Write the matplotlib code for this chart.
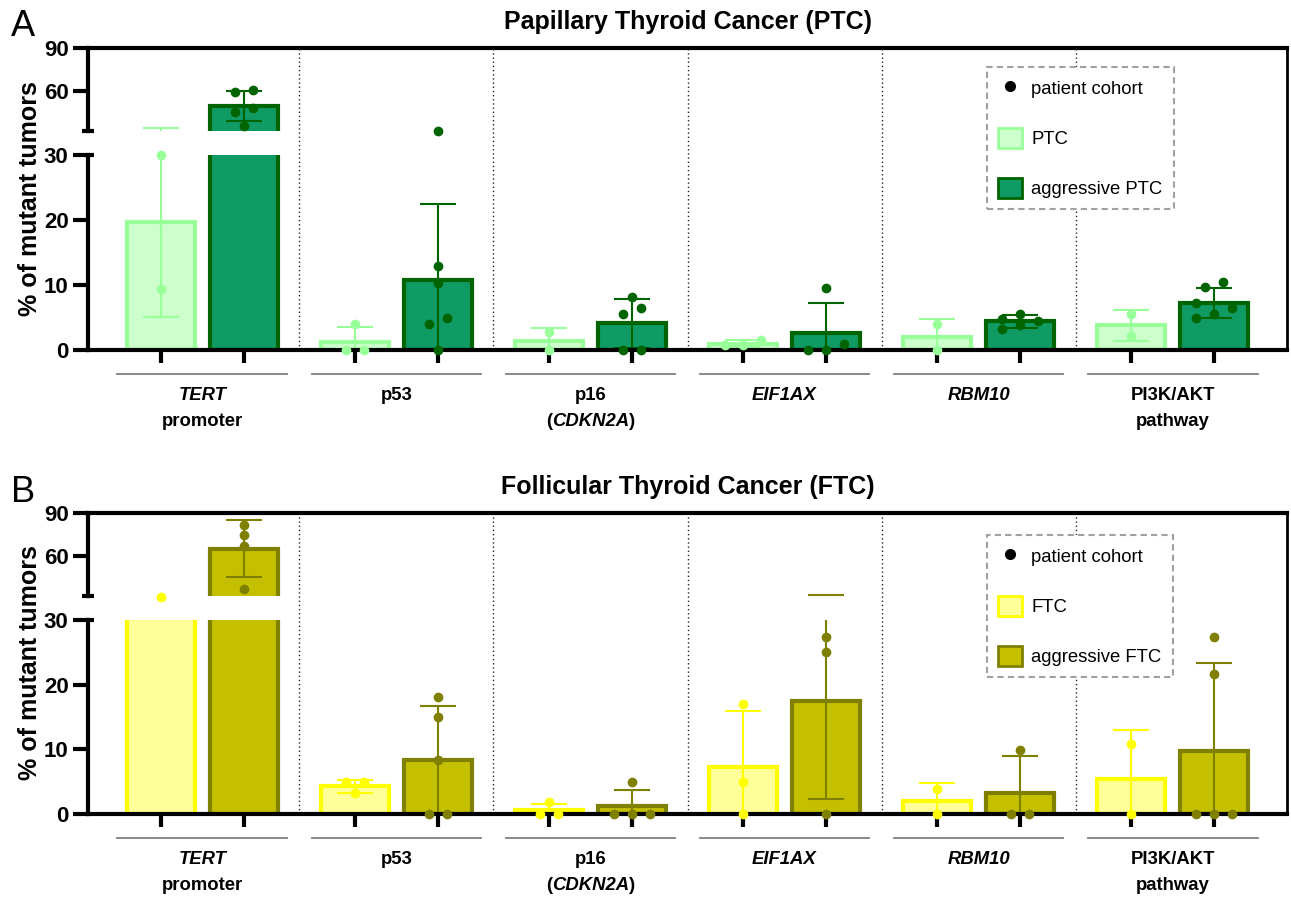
import numpy as np
import matplotlib
matplotlib.use("Agg")
import matplotlib.pyplot as plt
from matplotlib.lines import Line2D
from matplotlib.patches import Patch
import matplotlib.transforms as mtransforms

plt.rcParams['font.family'] = ['Liberation Sans', 'DejaVu Sans']

# ---------------- data ----------------
label_line1 = ["TERT", "p53", "p16", "EIF1AX", "RBM10", "PI3K/AKT"]
label_line2 = ["promoter", "", "(CDKN2A)", "", "", "pathway"]
label_line1_italic = [True, False, False, True, True, False]
label_line2_italic_part = ["", "", "CDKN2A", "", "", ""]

# Panel A: Papillary thyroid cancer
ptc_mean = [19.7, 1.3, 1.4, 1.0, 2.0, 3.8]
ptc_sd = [14.6, 2.3, 2.0, 0.5, 2.8, 2.4]
ptc_points = [[30.0, 9.4], [4.0, 0.0, 0.0], [2.8, 0.0], [1.6, 0.8, 0.7],
              [4.0, 0.0], [5.5, 2.1]]
aptc_mean = [49.5, 10.8, 4.1, 2.6, 4.4, 7.3]
aptc_sd = [10.3, 11.6, 3.8, 4.7, 1.0, 2.3]
aptc_points = [[60.7, 59.5, 48.4, 45.1, 35.6], [32.3, 12.9, 10.3, 4.9, 4.0, 0.0],
               [8.2, 6.5, 5.6, 0.0, 0.0], [9.6, 1.0, 0.0, 0.0],
               [5.6, 4.8, 4.4, 3.9, 3.2], [10.5, 9.7, 7.2, 6.4, 5.5, 5.0]]

# Panel B: Follicular thyroid cancer
ftc_mean = [31.5, 4.3, 0.65, 7.3, 1.95, 5.4]
ftc_sd = [0.0, 1.0, 0.95, 8.7, 2.8, 7.6]
ftc_points = [[31.5], [5.0, 5.0, 3.2], [1.9, 0.0, 0.0], [17.0, 5.0, 0.0],
              [3.9, 0.0], [10.8, 0.0]]
aftc_mean = [65.1, 8.3, 1.2, 17.4, 3.3, 9.8]
aftc_sd = [19.7, 8.35, 2.45, 15.1, 5.7, 13.5]
aftc_points = [[81.6, 74.7, 67.2, 36.8], [18.1, 15.0, 8.3, 0.0, 0.0],
               [4.9, 0.0, 0.0, 0.0], [27.3, 25.0, 0.0], [9.9, 0.0, 0.0],
               [27.3, 21.6, 0.0, 0.0, 0.0]]

lower_ticks = [0, 10, 20, 30]
upper_ticks = [60, 90]

# ---------------- layout ----------------
W, H = 1291, 898
fig = plt.figure(figsize=(W / 100, H / 100), dpi=100)
renderer = fig.canvas.get_renderer()


def fx(px):
    return px / W


def fy(py):
    return 1 - py / H


XMIN, XMAX = -0.59, 5.59
LEFT, RIGHT = 88, 1287
PX_PER_X = (RIGHT - LEFT) / (XMAX - XMIN)
OFF = 41.5 / PX_PER_X
BW = 68.8 / PX_PER_X
LOW_TOP, UP_BOT, UP_TOP = 30, 32, 90
LABEL_FS = 13.3


def swarm_offsets(ax_lo, ax_hi, vals, step=18.0, near=9.5):
    ys = []
    for v in vals:
        a = ax_lo if v <= LOW_TOP else ax_hi
        ys.append(a.transData.transform((0, v))[1])
    ys = np.array(ys)
    order = list(np.argsort(ys))
    offs = np.zeros(len(vals))
    clusters, cur = [], [order[0]]
    for a, b in zip(order[:-1], order[1:]):
        if ys[b] - ys[a] < near:
            cur.append(b)
        else:
            clusters.append(cur)
            cur = [b]
    clusters.append(cur)
    for c in clusters:
        n = len(c)
        if n == 1:
            pat = [0.0]
        elif n == 2:
            pat = [-step / 2, step / 2]
        else:
            pat = [(-step, 0.0, step)[k % 3] for k in range(n)]
        for idx, p in zip(c, pat):
            offs[idx] = p
    return offs / PX_PER_X


def mixed_text(ax, tr, xc, y, s, ital):
    """Centered text where the substring `ital` is bold italic."""
    if not ital or ital not in s:
        ax.text(xc, y, s, transform=tr, ha='center', va='center',
                fontsize=LABEL_FS, fontweight='bold')
        return
    i = s.index(ital)
    pieces = [(s[:i], 'normal'), (ital, 'italic'), (s[i + len(ital):], 'normal')]
    pieces = [p for p in pieces if p[0]]
    arts = []
    for txt, sty in pieces:
        t = ax.text(0, y, txt, transform=tr, ha='left', va='center',
                    fontsize=LABEL_FS, fontweight='bold', fontstyle=sty)
        arts.append(t)
    widths = [t.get_window_extent(renderer).width / PX_PER_X for t in arts]
    x0 = xc - sum(widths) / 2
    for t, w in zip(arts, widths):
        t.set_x(x0)
        x0 += w


def draw_panel(pix, title, title_y, letter, letter_y, ylab_y, leg_top,
               m1, s1, p1, m2, s2, p2, st1, st2, name1, name2):
    lt, lb, ut, ub = pix
    n = len(label_line1)
    x = np.arange(n)

    # background axes: separators + right spine
    bg = fig.add_axes([fx(LEFT), fy(lb), fx(RIGHT) - fx(LEFT), (lb - ut) / H])
    bg.set_xlim(XMIN, XMAX)
    bg.set_ylim(0, 1)
    bg.set_facecolor('none')
    bg.set_xticks([])
    bg.set_yticks([])
    for s in ('left', 'top', 'bottom'):
        bg.spines[s].set_visible(False)
    bg.spines['right'].set_linewidth(2)
    for k in range(n - 1):
        bg.axvline(k + 0.5, color='#222222', lw=1, ls=(0, (1, 2)))

    lower = fig.add_axes([fx(LEFT), fy(lb), fx(RIGHT) - fx(LEFT), (lb - lt) / H])
    upper = fig.add_axes([fx(LEFT), fy(ub), fx(RIGHT) - fx(LEFT), (ub - ut) / H])
    for ax in (lower, upper):
        ax.set_facecolor('none')
        ax.set_xlim(XMIN, XMAX)
    lower.set_ylim(0, LOW_TOP)
    upper.set_ylim(UP_BOT, UP_TOP)

    pos1 = x - OFF
    pos2 = x + OFF
    for ax, floor in ((lower, -1.0), (upper, UP_BOT)):
        for pos, m, s, st in ((pos1, m1, s1, st1), (pos2, m2, s2, st2)):
            m = np.asarray(m, float)
            s = np.asarray(s, float)
            show = m > floor
            ax.bar(pos[show], m[show], width=BW, color=st['face'],
                   edgecolor=st['edge'], linewidth=3, zorder=1)
            has = s > 0
            ax.errorbar(pos[has], m[has],
                        yerr=[np.minimum(s, m)[has], s[has]], fmt='none',
                        ecolor=st['pt'], elinewidth=1.5, capsize=13,
                        capthick=1.5, zorder=2)

    for pos, pts, st in ((pos1, p1, st1), (pos2, p2, st2)):
        for xi, vals in zip(pos, pts):
            offs = swarm_offsets(lower, upper, vals)
            for v, o in zip(vals, offs):
                ax = lower if v <= LOW_TOP else upper
                ax.plot([xi + o], [v], 'o', ms=7, color=st['pt'], mew=0,
                        clip_on=False, zorder=5)

    # spines
    lower.spines['top'].set_visible(False)
    lower.spines['right'].set_visible(False)
    lower.spines['left'].set_linewidth(3)
    lower.spines['bottom'].set_linewidth(3)
    upper.spines['bottom'].set_visible(False)
    upper.spines['right'].set_visible(False)
    upper.spines['left'].set_linewidth(3)
    upper.spines['top'].set_linewidth(3)

    lower.set_yticks(lower_ticks)
    upper.set_yticks(upper_ticks)
    for ax in (lower, upper):
        ax.tick_params(axis='y', direction='out', length=11, width=3,
                       labelsize=16, pad=3)
        for lab in ax.get_yticklabels():
            lab.set_fontweight('bold')
    lower.set_xticks(np.sort(np.concatenate([pos1, pos2])))
    lower.set_xticklabels([])
    lower.tick_params(axis='x', direction='out', length=9, width=3)
    upper.tick_params(axis='x', bottom=False, labelbottom=False)

    # break marks
    d = 6 / (RIGHT - LEFT)
    lower.plot([0, d], [1, 1], transform=lower.transAxes, color='k', lw=3,
               clip_on=False, solid_capstyle='butt')
    upper.plot([-d, d], [0, 0], transform=upper.transAxes, color='k', lw=3,
               clip_on=False, solid_capstyle='butt')

    # group labels
    tr = mtransforms.blended_transform_factory(lower.transData, lower.transAxes)
    hpx = lb - lt
    for i in range(n):
        lower.plot([i - 0.438, i + 0.438], [-24 / hpx, -24 / hpx], transform=tr,
                   color='#7f7f7f', lw=1.3, clip_on=False)
        lower.text(i, -45 / hpx, label_line1[i], transform=tr, ha='center',
                   va='center', fontsize=LABEL_FS, fontweight='bold',
                   fontstyle='italic' if label_line1_italic[i] else 'normal')
        if label_line2[i]:
            mixed_text(lower, tr, i, -71 / hpx, label_line2[i],
                       label_line2_italic_part[i])

    fig.text(fx(687.5), fy(title_y), title, ha='center', va='center',
             fontsize=18, fontweight='bold')
    fig.text(fx(23), fy(letter_y), letter, ha='center', va='center', fontsize=26)
    fig.text(fx(30), fy(ylab_y), '% of mutant tumors', rotation=90,
             ha='center', va='center', fontsize=18, fontweight='bold')

    handles = [Line2D([], [], marker='o', color='k', ls='none', ms=7),
               Patch(facecolor=st1['face'], edgecolor=st1['edge'], lw=2),
               Patch(facecolor=st2['face'], edgecolor=st2['edge'], lw=2)]
    leg = fig.legend(handles, ['patient cohort', name1, name2], loc='upper left',
                     bbox_to_anchor=(fx(987), fy(leg_top)),
                     bbox_transform=fig.transFigure, frameon=True,
                     fancybox=False, edgecolor='#a0a0a0', framealpha=1,
                     fontsize=13.3, labelspacing=1.6, handlelength=1.3,
                     handleheight=1.3, handletextpad=0.5, borderpad=0.6,
                     borderaxespad=0)
    leg.get_frame().set_linestyle((0, (3, 2)))
    leg.get_frame().set_linewidth(1.5)


ptc_style = dict(face='#CCFFCC', edge='#99FF99', pt='#99FF99')
aptc_style = dict(face='#0F9B63', edge='#006400', pt='#006400')
ftc_style = dict(face='#FFFF99', edge='#FFFF00', pt='#FFFF00')
aftc_style = dict(face='#C4C000', edge='#808000', pt='#808000')

draw_panel((155, 350, 48, 131), 'Papillary Thyroid Cancer (PTC)', 22, 'A', 27,
           199, 67, ptc_mean, ptc_sd, ptc_points, aptc_mean, aptc_sd,
           aptc_points, ptc_style, aptc_style, 'PTC', 'aggressive PTC')
draw_panel((620, 814, 513, 596), 'Follicular Thyroid Cancer (FTC)', 487, 'B', 492,
           663, 535, ftc_mean, ftc_sd, ftc_points, aftc_mean, aftc_sd,
           aftc_points, ftc_style, aftc_style, 'FTC', 'aggressive FTC')

fig.savefig('out.png', dpi=100)
